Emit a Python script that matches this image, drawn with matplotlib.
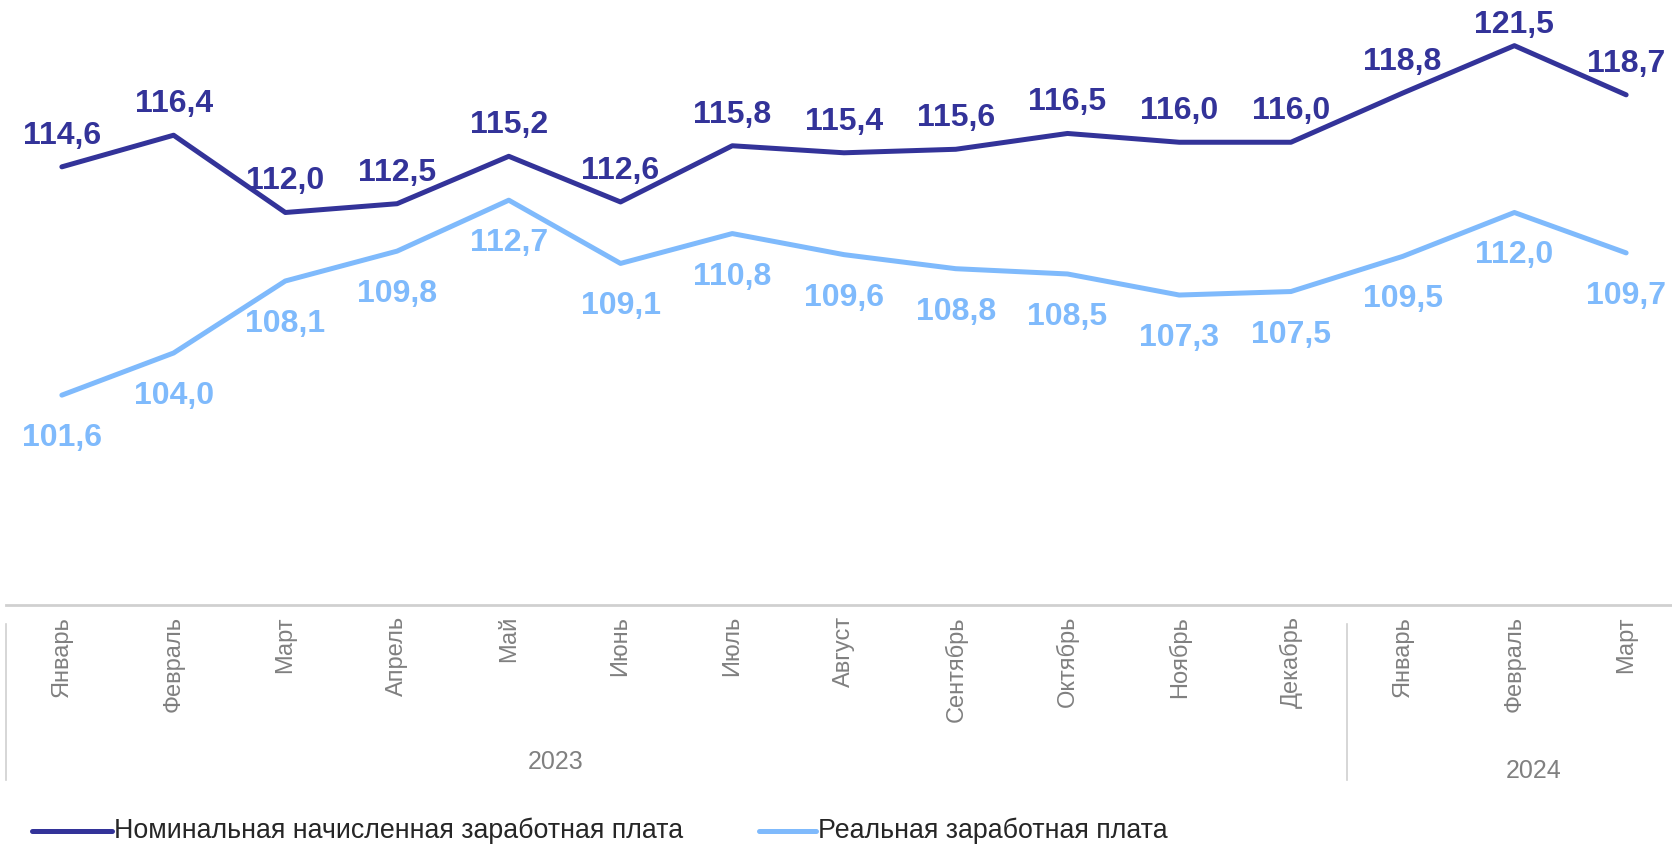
import matplotlib
matplotlib.use("Agg")
import matplotlib.pyplot as plt
import matplotlib.transforms as mtransforms
from matplotlib.lines import Line2D

plt.rcParams['font.family'] = ['Liberation Sans', 'DejaVu Sans']

# Data
months = ["Январь", "Февраль", "Март", "Апрель", "Май", "Июнь", "Июль", "Август",
          "Сентябрь", "Октябрь", "Ноябрь", "Декабрь", "Январь", "Февраль", "Март"]
years = ["2023", "2024"]
nominal = [114.6, 116.4, 112.0, 112.5, 115.2, 112.6, 115.8, 115.4,
           115.6, 116.5, 116.0, 116.0, 118.8, 121.5, 118.7]
real = [101.6, 104.0, 108.1, 109.8, 112.7, 109.1, 110.8, 109.6,
        108.8, 108.5, 107.3, 107.5, 109.5, 112.0, 109.7]
labels = ["Номинальная начисленная заработная плата", "Реальная заработная плата"]

c_nom = "#333399"
c_real = "#7fbafc"
gray = "#808080"

W, H = 1672, 847
fig = plt.figure(figsize=(W / 100, H / 100), dpi=100)
ax = fig.add_axes([6 / W, 1 - 605 / H, 1676 / W, 605 / H])

x = list(range(len(months)))
ax.plot(x, nominal, color=c_nom, lw=3.6, solid_capstyle="round")
ax.plot(x, real, color=c_real, lw=3.6, solid_capstyle="round")

ax.set_xlim(-0.5, len(months) - 0.5)
ax.set_ylim(89.65, 124.1)


def fmt(v):
    return f"{v:.1f}".replace(".", ",")


# data labels (nominal above, kept inside the figure like Excel does)
fig.canvas.draw()
for xi, v in zip(x, nominal):
    py = H - ax.transData.transform((xi, v))[1]  # pixel from top
    off = min(31, py - 25)
    ax.annotate(fmt(v), (xi, v), xytext=(0, off), textcoords="offset pixels",
                ha="center", va="center", fontsize=23, fontweight="bold", color=c_nom)
for xi, v in zip(x, real):
    ax.annotate(fmt(v), (xi, v), xytext=(0, -43), textcoords="offset pixels",
                ha="center", va="center", fontsize=23, fontweight="bold", color=c_real)

ax.set_yticks([])
ax.set_xticks(x)
ax.set_xticklabels(months, rotation=90, va="top", ha="center", fontsize=17, color=gray)
ax.tick_params(axis="x", length=0, pad=8)
for s in ["top", "right", "left"]:
    ax.spines[s].set_visible(False)
ax.spines["bottom"].set_color("#d0d0d0")
ax.spines["bottom"].set_linewidth(2)

# year group separators and labels
tr = mtransforms.blended_transform_factory(ax.transData, fig.transFigure)
for xs in [-0.5, 11.5]:
    ax.plot([xs, xs], [1 - 624 / H, 1 - 780 / H], transform=tr, color="#d0d0d0",
            lw=1.2, clip_on=False)
ax.text(4.42, 1 - 762 / H, years[0], transform=tr, ha="center", va="center",
        fontsize=18, color=gray)
ax.text(13.17, 1 - 771 / H, years[1], transform=tr, ha="center", va="center",
        fontsize=18, color=gray)

# legend
ly = 1 - 831 / H
for (x0, x1), lab, col in zip([(32, 112), (759, 816)], labels, [c_nom, c_real]):
    fig.add_artist(Line2D([x0 / W, x1 / W], [ly, ly], transform=fig.transFigure,
                          color=col, lw=3.6, solid_capstyle="round"))
    fig.text((x1 + 2) / W, ly, lab, ha="left", va="center", fontsize=19.3,
             color="#262626")

fig.savefig("out.png", dpi=100)
